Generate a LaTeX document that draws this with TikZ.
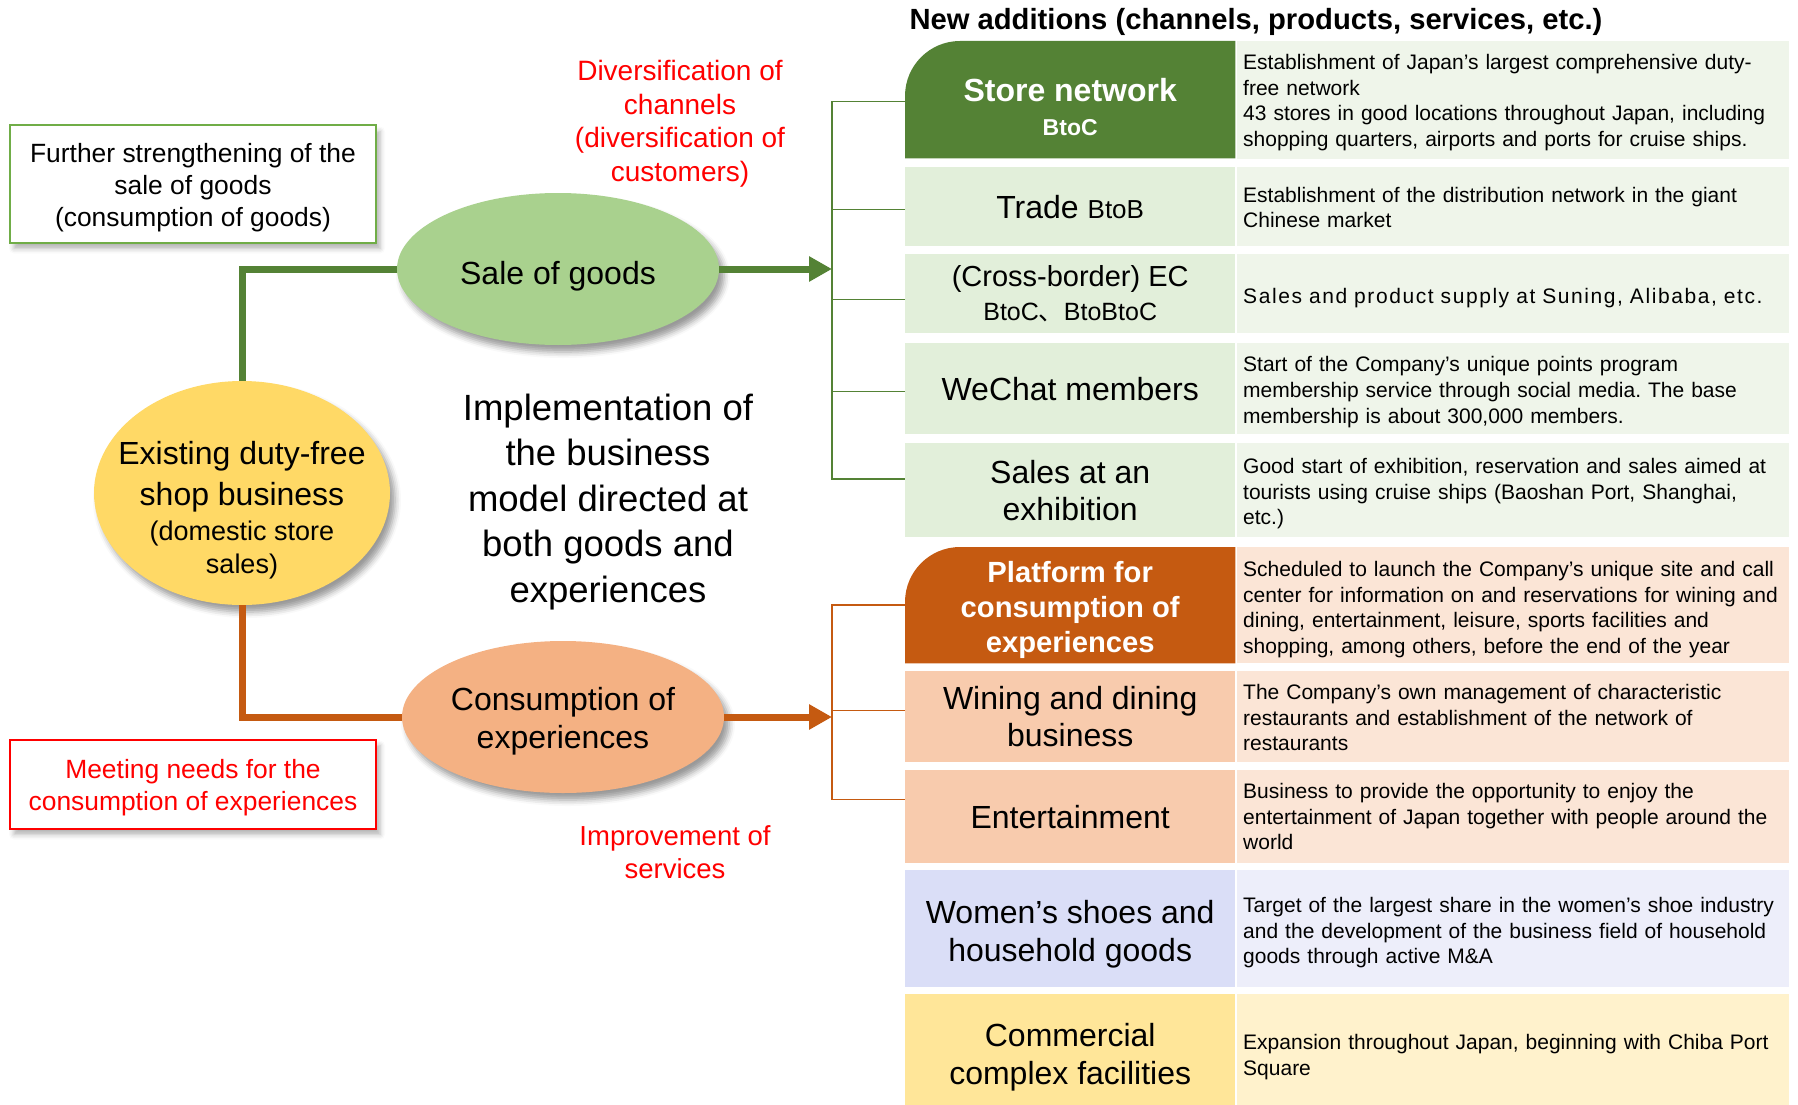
\documentclass[tikz,border=0pt]{standalone}
\usepackage{fontspec}
\setmainfont{Liberation Sans}
\newfontfamily\cjk{Noto Sans CJK SC}
\usepackage{tikz}
\usetikzlibrary{shapes}
\usetikzlibrary{positioning}
\usetikzlibrary{arrows.meta}
\usetikzlibrary{backgrounds}
\usetikzlibrary{shadows.blur}
\definecolor{dkgreen}{HTML}{548235}
\definecolor{boxgreen}{HTML}{70AD47}
\definecolor{ltgreen}{HTML}{A9D18E}
\definecolor{cellgreen}{HTML}{E2EFDA}
\definecolor{palegreen}{HTML}{EFF5EA}
\definecolor{dkorange}{HTML}{C55A11}
\definecolor{ltorange}{HTML}{F4B183}
\definecolor{cellorange}{HTML}{F8CBAD}
\definecolor{paleorange}{HTML}{FBE5D6}
\definecolor{celllilac}{HTML}{DADEF7}
\definecolor{palelilac}{HTML}{EDEEFA}
\definecolor{cellyellow}{HTML}{FFE699}
\definecolor{paleyellow}{HTML}{FFF2CC}
\definecolor{gold}{HTML}{FFD966}
\definecolor{pure red}{HTML}{FF0000}
\newcommand{\topgap}[1]{\rule{0pt}{#1}}
\frenchspacing

\begin{document}
\begin{tikzpicture}[
    x=1pt, y=-1pt,
    cell/.style={rectangle, inner sep=0pt, minimum width=330, minimum height=#1,
      anchor=north west, align=center, font=\fontsize{32}{37}\selectfont},
    info/.style={rectangle, inner xsep=6pt, inner ysep=0pt, text width=540,
      minimum height=#1, anchor=north west, align=left, font=\fontsize{21}{25.7}\selectfont},
    oval/.style={ellipse, inner sep=0pt, align=center,
      blur shadow={shadow xshift=5pt, shadow yshift=-7pt, shadow opacity=40, shadow blur radius=6pt}},
    note/.style={rectangle, draw, line width=2pt, fill=white, minimum width=366, align=center,
      font=\fontsize{26.4}{32}\selectfont,
      blur shadow={shadow xshift=4pt, shadow yshift=-6pt, shadow opacity=30, shadow blur radius=5pt}},
    redtext/.style={text=pure red, align=center},
    gline/.style={dkgreen, line width=7pt},
    oline/.style={dkorange, line width=7pt},
    gbar/.style={dkgreen, line width=1.5pt},
    obar/.style={dkorange, line width=1.5pt},
    bigarrow/.style={-{Triangle[length=23pt, width=24pt]}}
]
\useasboundingbox (0,0) rectangle (1798,1105);

\node[note, draw=boxgreen, minimum height=117] (FS) at (193,184) {\topgap{26pt}Further strengthening of the\\sale of goods\\(consumption of goods)};
\node[note, draw=pure red, text=pure red, minimum height=89] (MN) at (193,784) {\topgap{26pt}Meeting needs for the\\consumption of experiences};
\node[redtext, font=\fontsize{28}{33.5}\selectfont] (DC) at (680,124) {Diversification of\\channels\\(diversification of\\customers)};
\node[redtext, font=\fontsize{27.5}{33}\selectfont] (IS) at (675,852) {Improvement of\\services};
\node[align=center, font=\fontsize{36.5}{45.5}\selectfont] (IM) at (608,502) {Implementation of\\the business\\model directed at\\both goods and\\experiences};
\node[anchor=west, font=\bfseries\fontsize{29.2}{32}\selectfont] (NA) at (906,22) {New additions (channels, products, services, etc.)};

\coordinate (GB) at (832,269);
\coordinate (OB) at (832,717);

\node[oval, fill=gold, minimum width=296, minimum height=224, inner xsep=-20pt, inner ysep=-12pt,
  font=\fontsize{27}{33}\selectfont] (EX) at (242,493)
  {{\fontsize{32}{33}\selectfont\topgap{57pt}Existing duty-free}\\[8pt]{\fontsize{32}{33}\selectfont shop business}\\[2pt](domestic store\\sales)};
\node[oval, fill=ltgreen, minimum width=322, minimum height=152, font=\fontsize{32}{36}\selectfont] (SG) at (558,269) {\topgap{37pt}Sale of goods};
\node[oval, fill=ltorange, minimum width=322, minimum height=152, font=\fontsize{32}{38}\selectfont] (CE) at (563,717) {\topgap{31pt}Consumption of\\experiences};

\draw[gline] (EX.north) |- (SG.west);
\draw[oline] (EX.south) |- (CE.west);
\draw[gline, bigarrow] (SG.east) -- (GB);
\draw[oline, bigarrow] (CE.east) -- (OB);

\node[cell=117, text=white, font=\bfseries\fontsize{32}{34}\selectfont] (SN) at (905,41) {\topgap{37pt}Store network\\{\fontsize{23}{26}\selectfont BtoC}};
\node[info=118, fill=palegreen] (SNI) at (1237,41) {\topgap{20pt}Establishment of Japan's largest comprehensive duty-\\free network\\43 stores in good locations throughout Japan, including\\shopping quarters, airports and ports for cruise ships.};
\node[cell=79, fill=cellgreen] (TB) at (905,167) {Trade {\fontsize{26}{28}\selectfont BtoB}};
\node[info=79, fill=palegreen] (TBI) at (1237,167) {\topgap{17pt}Establishment of the distribution network in the giant\\Chinese market};
\node[cell=79, fill=cellgreen, font=\fontsize{29}{34}\selectfont] (EC) at (905,254) {(Cross-border) EC\\{\fontsize{25}{30}\selectfont BtoC{\cjk 、}BtoBtoC}};
\node[info=79, fill=palegreen] (ECI) at (1237,254) {\addfontfeature{LetterSpace=7.5}\topgap{24pt}Sales and product supply at Suning, Alibaba, etc.};
\node[cell=91, fill=cellgreen] (WM) at (905,343) {WeChat members};
\node[info=91, fill=palegreen] (WMI) at (1237,343) {\topgap{22pt}Start of the Company's unique points program\\membership service through social media. The base\\membership is about 300,000 members.};
\node[cell=94, fill=cellgreen] (SA) at (905,443) {Sales at an\\exhibition};
\node[info=94, fill=palegreen] (SAI) at (1237,443) {\topgap{22pt}Good start of exhibition, reservation and sales aimed at\\tourists using cruise ships (Baoshan Port, Shanghai,\\etc.)};
\node[cell=116, text=white, font=\bfseries\fontsize{29.2}{35}\selectfont] (PF) at (905,547) {\topgap{31pt}Platform for\\consumption of\\experiences};
\node[info=116, fill=paleorange] (PFI) at (1237,547) {\topgap{24pt}Scheduled to launch the Company's unique site and call\\center for information on and reservations for wining and\\dining, entertainment, leisure, sports facilities and\\shopping, among others, before the end of the year};
\node[cell=91, fill=cellorange] (WD) at (905,671) {Wining and dining\\business};
\node[info=91, fill=paleorange] (WDI) at (1237,671) {\topgap{17pt}The Company's own management of characteristic\\restaurants and establishment of the network of\\restaurants};
\node[cell=93, fill=cellorange] (ET) at (905,770) {Entertainment};
\node[info=93, fill=paleorange] (ETI) at (1237,770) {Business to provide the opportunity to enjoy the\\entertainment of Japan together with people around the\\world};
\node[cell=117, fill=celllilac, font=\fontsize{32}{38}\selectfont] (WS) at (905,870) {\topgap{35pt}Women's shoes and\\household goods};
\node[info=117, fill=palelilac] (WSI) at (1237,870) {\topgap{23pt}Target of the largest share in the women's shoe industry\\and the development of the business field of household\\goods through active M\&A};
\node[cell=111, fill=cellyellow, font=\fontsize{32}{38}\selectfont] (CC) at (905,994) {\topgap{39pt}Commercial\\complex facilities};
\node[info=111, fill=paleyellow] (CCI) at (1237,994) {\topgap{30pt}Expansion throughout Japan, beginning with Chiba Port\\Square};

\begin{scope}[on background layer]
\fill[dkgreen] (SN.south west) -- (SN.west) [rounded corners=55pt] -- (SN.north west) -- (SN.north) [sharp corners] -- (SN.north east) -- (SN.south east) -- cycle;
\fill[dkorange] (PF.south west) -- (PF.west) [rounded corners=55pt] -- (PF.north west) -- (PF.north) [sharp corners] -- (PF.north east) -- (PF.south east) -- cycle;
\end{scope}

\draw[gbar] ([yshift=-2pt]SN.west) -- ([yshift=-2pt]SN.west -| GB) -- ([yshift=11pt]SA.west -| GB) -- ([yshift=11pt]SA.west);
\draw[gbar] ([yshift=-3pt]TB.west) -- ([yshift=-3pt]TB.west -| GB);
\draw[gbar] ([yshift=-6pt]EC.west) -- ([yshift=-6pt]EC.west -| GB);
\draw[gbar] ([yshift=-3pt]WM.west) -- ([yshift=-3pt]WM.west -| GB);
\draw[obar] (PF.west) -- (PF.west -| OB) -- ([yshift=17pt]ET.west -| OB) -- ([yshift=17pt]ET.west);
\draw[obar] ([yshift=6pt]WD.west) -- ([yshift=6pt]WD.west -| OB);
\end{tikzpicture}
\end{document}
